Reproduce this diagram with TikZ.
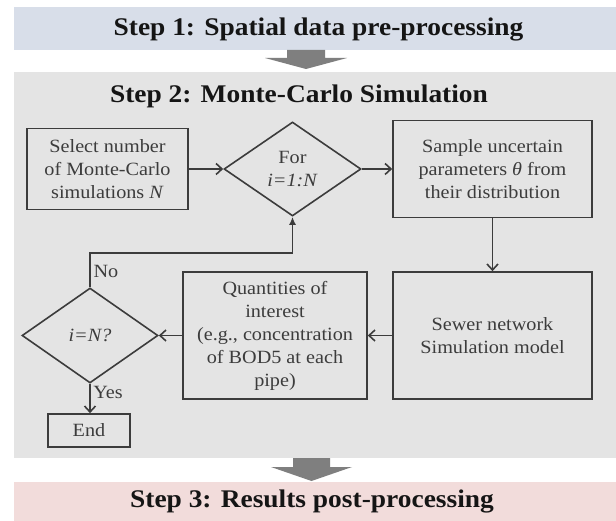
\documentclass[tikz,border=0pt]{standalone}
\usepackage{fontspec}
\setmainfont[FakeStretch=1.08]{Liberation Serif}
\usetikzlibrary{shapes.geometric,arrows.meta}
\definecolor{bandA}{HTML}{D8DEE9}
\definecolor{bandB}{HTML}{E4E4E4}
\definecolor{bandC}{HTML}{F2DCDB}
\definecolor{bigarrow}{HTML}{7F7F7F}
\definecolor{ink}{HTML}{3C3C3C}
\definecolor{titleink}{HTML}{151515}
\begin{document}
\begin{tikzpicture}[x=1pt,y=-1pt,
  ttl/.style={font=\fontsize{25.4}{30}\selectfont\bfseries, text=titleink, inner sep=0pt},
  boxtext/.style={font=\fontsize{18.7}{23}\selectfont, text=ink, align=center},
  box/.style={boxtext, draw=ink, line width=1.6pt, inner sep=0pt},
  dia/.style={boxtext, diamond, draw=ink, line width=1.6pt, inner sep=0pt},
  lbl/.style={boxtext, inner sep=0pt},
  conn/.style={draw=ink, line width=1.6pt, -{Straight Barb[length=6pt,width=11pt]}},
  loopconn/.style={draw=ink, line width=1.6pt, -{Latex[length=8pt,width=7pt]}}
]
\useasboundingbox (0,0) rectangle (616,521);
\fill[white] (0,0) rectangle (616,521);
% bands
\fill[bandA] (14,7) rectangle (616,50);
\fill[bandB] (14,72) rectangle (616,458);
\fill[bandC] (14,482) rectangle (616,521);
% big block arrows
\fill[bigarrow] (287,50) -- (325,50) -- (325,58) -- (347,58) -- (306,69) -- (265,58) -- (287,58) -- cycle;
\fill[bigarrow] (293,458) -- (330,458) -- (330,467) -- (352,467) -- (311.5,481) -- (271,467) -- (293,467) -- cycle;
% titles
\node[ttl] (t1) at (318.5,29) {Step 1: Spatial data pre-processing};
\node[ttl] (t2) at (299,96) {Step 2: Monte-Carlo Simulation};
\node[ttl] (t3) at (312,501) {Step 3: Results post-processing};
% flowchart
\node[box, minimum width=161pt, minimum height=81pt] (sel) at (107.5,169) {Select number\\of Monte-Carlo\\simulations \textit{N}};
\node[dia, minimum width=137pt, minimum height=94pt] (for) at (292.5,169) {For\\\textit{i=1:N}};
\node[box, minimum width=199pt, minimum height=97pt] (samp) at (492.5,169) {Sample uncertain\\parameters \textit{θ} from\\their distribution};
\node[box, minimum width=199pt, minimum height=127pt] (sew) at (492.5,335.5) {Sewer network\\Simulation model};
\node[box, minimum width=184pt, minimum height=127pt] (qty) at (275,335.5) {Quantities of\\interest\\(e.g., concentration\\of BOD5 at each\\pipe)};
\node[dia, minimum width=136pt, minimum height=95pt] (ieq) at (90,335.5) {\textit{i=N?}};
\node[box, minimum width=82pt, minimum height=33pt] (end) at (89,430.5) {End};
\coordinate (turn) at (0,253);
% connectors
\draw[conn] (sel.east) -- (for.west);
\draw[conn] (for.east) -- (samp.west);
\draw[conn] (samp.south) -- (sew.north);
\draw[conn] (sew.west) -- (qty.east);
\draw[conn] (qty.west) -- (ieq.east);
\draw[conn] (ieq.south) -- (ieq.south |- end.north);
\draw[loopconn] (ieq.north) -- (ieq.north |- turn) -| (for.south);
% labels
\node[lbl] (nolab) at (106,271) {No};
\node[lbl] (yeslab) at (108,392) {Yes};
\end{tikzpicture}
\end{document}
